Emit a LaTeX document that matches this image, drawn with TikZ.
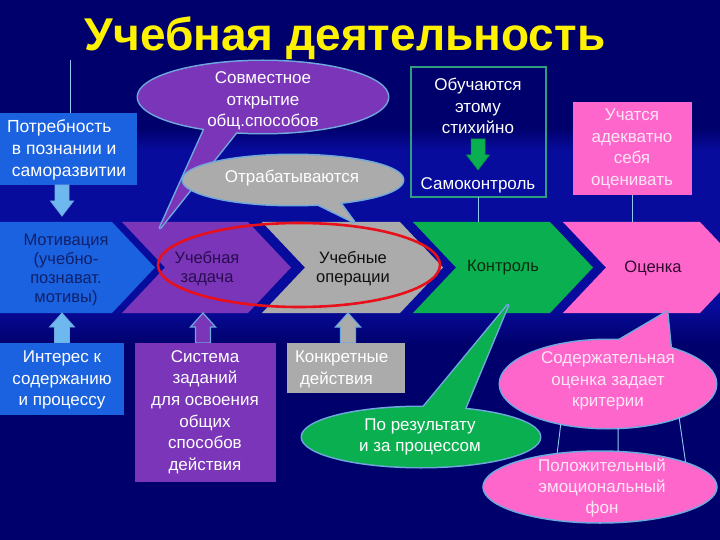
\documentclass[tikz,border=0pt]{standalone}
\usepackage{fontspec}
\setmainfont{Liberation Sans}
\usetikzlibrary{shapes.geometric}
\definecolor{bgnavy}{HTML}{00006C}
\definecolor{bgband}{HTML}{080C9C}
\definecolor{cblue}{HTML}{1A62E0}
\definecolor{cpurple}{HTML}{7A35B8}
\definecolor{cgray}{HTML}{ABABAB}
\definecolor{cgreen}{HTML}{0AB050}
\definecolor{cpink}{HTML}{FF66CC}
\definecolor{outl}{HTML}{6FA8DC}
\definecolor{arrowblue}{HTML}{6EB8F0}
\definecolor{pinktext}{HTML}{FCE6F6}
\definecolor{tealbox}{HTML}{2E9E80}
\definecolor{linecol}{HTML}{8EC8F0}
\definecolor{darkred}{HTML}{E8101A}
\begin{document}
\begin{tikzpicture}[x=1pt,y=-1pt,
  every node/.style={inner sep=0pt,outer sep=0pt},
  wtxt/.style={text=white,font=\fontsize{17}{21.5}\selectfont,align=center},
  ptxt/.style={text=pinktext,font=\fontsize{17}{21.5}\selectfont,align=center},
  ctxt/.style={font=\fontsize{16.5}{19}\selectfont,align=center},
  titlefont/.style={font=\fontsize{46}{50}\selectfont\bfseries,anchor=base},
  thinline/.style={draw=linecol,line width=0.9pt},
  olin/.style={draw=outl,line width=3pt,line join=round},
  upar/.pic={\path[pic actions] (-7.5,0) -- (-7.5,-16) -- (-12.5,-16) -- (0,-30) -- (12.5,-16) -- (7.5,-16) -- (7.5,0) -- cycle;},
  dnar/.pic={\path[pic actions] (-7,0) -- (-7,16) -- (-11.5,16) -- (0,31) -- (11.5,16) -- (7,16) -- (7,0) -- cycle;}
]
\useasboundingbox (0,0) rectangle (720,540);
% background
\fill[bgnavy] (0,0) rectangle (720,540);
\shade[top color=bgnavy,bottom color=bgband] (0,128) rectangle (720,150);
\fill[bgband] (0,150) rectangle (720,305);
\shade[top color=bgband,bottom color=bgnavy] (0,305) rectangle (720,345);

% title
\node[titlefont,text=yellow] (title) at (345,51) {Учебная деятельность};

% chevrons
\fill[cblue] (0,222) -- (112,222) -- (155,267.5) -- (112,313) -- (0,313) -- cycle;
\fill[cpurple] (122,222) -- (248,222) -- (291,267.5) -- (248,313) -- (122,313) -- (165,267.5) -- cycle;
\fill[cgray] (262,222) -- (400,222) -- (443,267.5) -- (400,313) -- (262,313) -- (305,267.5) -- cycle;
\fill[cgreen] (413,222) -- (550,222) -- (593,267.5) -- (550,313) -- (413,313) -- (456,267.5) -- cycle;
\fill[cpink] (563,222) -- (700,222) -- (743,267.5) -- (700,313) -- (563,313) -- (606,267.5) -- cycle;
\coordinate (chevtop) at (0,222);

\node[ctxt,text={rgb,255:red,16;green,32;blue,106}] (motiv) at (66,270) {Мотивация\\(учебно-\\познават.\\мотивы)};
\node[ctxt,text={rgb,255:red,42;green,12;blue,80}] (zadacha) at (207,269) {Учебная\\задача};
\node[ctxt,text={rgb,255:red,16;green,16;blue,16}] (oper) at (353,269) {Учебные\\операции};
\node[ctxt,text={rgb,255:red,10;green,42;blue,16}] (kontrol) at (503,268) {Контроль};
\node[ctxt,text={rgb,255:red,48;green,10;blue,48}] (ocenka) at (653,268) {Оценка};

% red ellipse
\draw[darkred,line width=2.6pt] (299,265) ellipse [x radius=141, y radius=42];

% top-left box
\coordinate (vtop) at (70,60);
\node[fill=cblue,minimum width=137,minimum height=72,anchor=north west] (potr) at (0,113) {};
\draw[thinline] (vtop) -- (vtop |- potr.north);
\node[text=white,font=\fontsize{17.5}{22}\selectfont,align=left,anchor=west] (potrtxt) at (7,150) {Потребность\\\hspace*{5pt}в познании и\\\hspace*{5pt}саморазвитии};
\pic[fill=arrowblue,draw=outl,line width=0.8pt] at (62,185) {dnar};

% purple callout
\node[ellipse,olin,fill=cpurple,minimum width=250,minimum height=72] (sovm) at (263,97) {};
\draw[olin] (205,128) -- (160,228) -- (238,130);
\fill[cpurple] (205,128) -- (160,228) -- (238,130) -- cycle;
\fill[cpurple] (263,97) ellipse [x radius=125, y radius=36];
\node[wtxt] (sovmtxt) at (263,101) {Совместное\\открытие\\общ.способов};

% gray callout
\node[ellipse,olin,fill=cgray,minimum width=220,minimum height=50] (otrab) at (293,180) {};
\draw[olin] (305,198) -- (354,222) -- (338,200);
\fill[cgray] (305,198) -- (354,222) -- (338,200) -- cycle;
\fill[cgray] (293,180) ellipse [x radius=110, y radius=25];
\node[wtxt] (otrabtxt) at (292,178) {Отрабатываются};

% self-control box
\node[draw=tealbox,line width=1.6pt,minimum width=135,minimum height=130,anchor=north west] (obuch) at (411,67) {};
\node[wtxt] (obuchtxt) at (478,106) {Обучаются\\этому\\стихийно};
\pic[fill=cgreen,draw=cgreen!80!black,line width=0.5pt] at (478,139) {dnar};
\node[wtxt] (samok) at (478,185) {Самоконтроль};
\draw[thinline] (obuch.south) -- (obuch.south |- chevtop);

% pink box
\node[fill=cpink,minimum width=119,minimum height=93,anchor=north west] (uchat) at (573,102) {};
\node[ptxt] (uchattxt) at (632,149) {Учатся\\адекватно\\себя\\оценивать};
\draw[thinline] (uchat.south) -- (uchat.south |- chevtop);

% bottom arrows
\pic[fill=arrowblue,draw=outl,line width=0.8pt] at (62,343) {upar};
\pic[fill=cpurple,draw=outl,line width=1.2pt] at (203,343) {upar};
\pic[fill=cgray,draw=outl,line width=1.2pt] at (348,343) {upar};

% bottom boxes
\node[fill=cblue,minimum width=124,minimum height=72,anchor=north west] (inter) at (0,343) {};
\node[wtxt] (intertxt) at (62,380) {Интерес к\\содержанию\\и процессу};
\node[fill=cpurple,minimum width=141,minimum height=139,anchor=north west] (sist) at (135,343) {};
\node[wtxt,font=\fontsize{17}{21.6}\selectfont] (sisttxt) at (205,412) {Система\\заданий\\для освоения\\общих\\способов\\действия};
\node[fill=cgray,minimum width=118,minimum height=50,anchor=north west] (konkr) at (287,343) {};
\node[text=white,font=\fontsize{17}{22}\selectfont,align=left,anchor=west] (konkrtxt) at (295,369) {Конкретные\\\hspace*{5pt}действия};

% green callout
\node[ellipse,olin,fill=cgreen,minimum width=238,minimum height=60] (poresult) at (421,437) {};
\draw[olin] (417,415) -- (508,305) -- (461,418);
\fill[cgreen] (417,415) -- (508,305) -- (461,418) -- cycle;
\fill[cgreen] (421,437) ellipse [x radius=119, y radius=30];
\node[wtxt] (poresulttxt) at (420,437) {По результату\\и за процессом};

% pink callout
\node[ellipse,olin,fill=cpink,minimum width=216,minimum height=88] (crit) at (608,384) {};
\draw[olin] (611,345) -- (667,312) -- (671,352);
\fill[cpink] (611,345) -- (667,312) -- (671,352) -- cycle;
\fill[cpink] (608,384) ellipse [x radius=108, y radius=44];
\node[ptxt] (crittxt) at (608,381) {Содержательная\\оценка задает\\критерии};

% lower pink ellipse
\node[ellipse,draw=outl,line width=1.5pt,fill=cpink,minimum width=234,minimum height=72] (fon) at (600,487) {};
\node[ptxt,font=\fontsize{17}{21}\selectfont] (fontxt) at (602,488) {Положительный\\эмоциональный\\фон};

\draw[thinline] (crit.220) -- (fon.142);
\draw[thinline] (crit.283) -- (fon.63);
\draw[thinline] (crit.335) -- (fon.16);
\end{tikzpicture}
\end{document}
